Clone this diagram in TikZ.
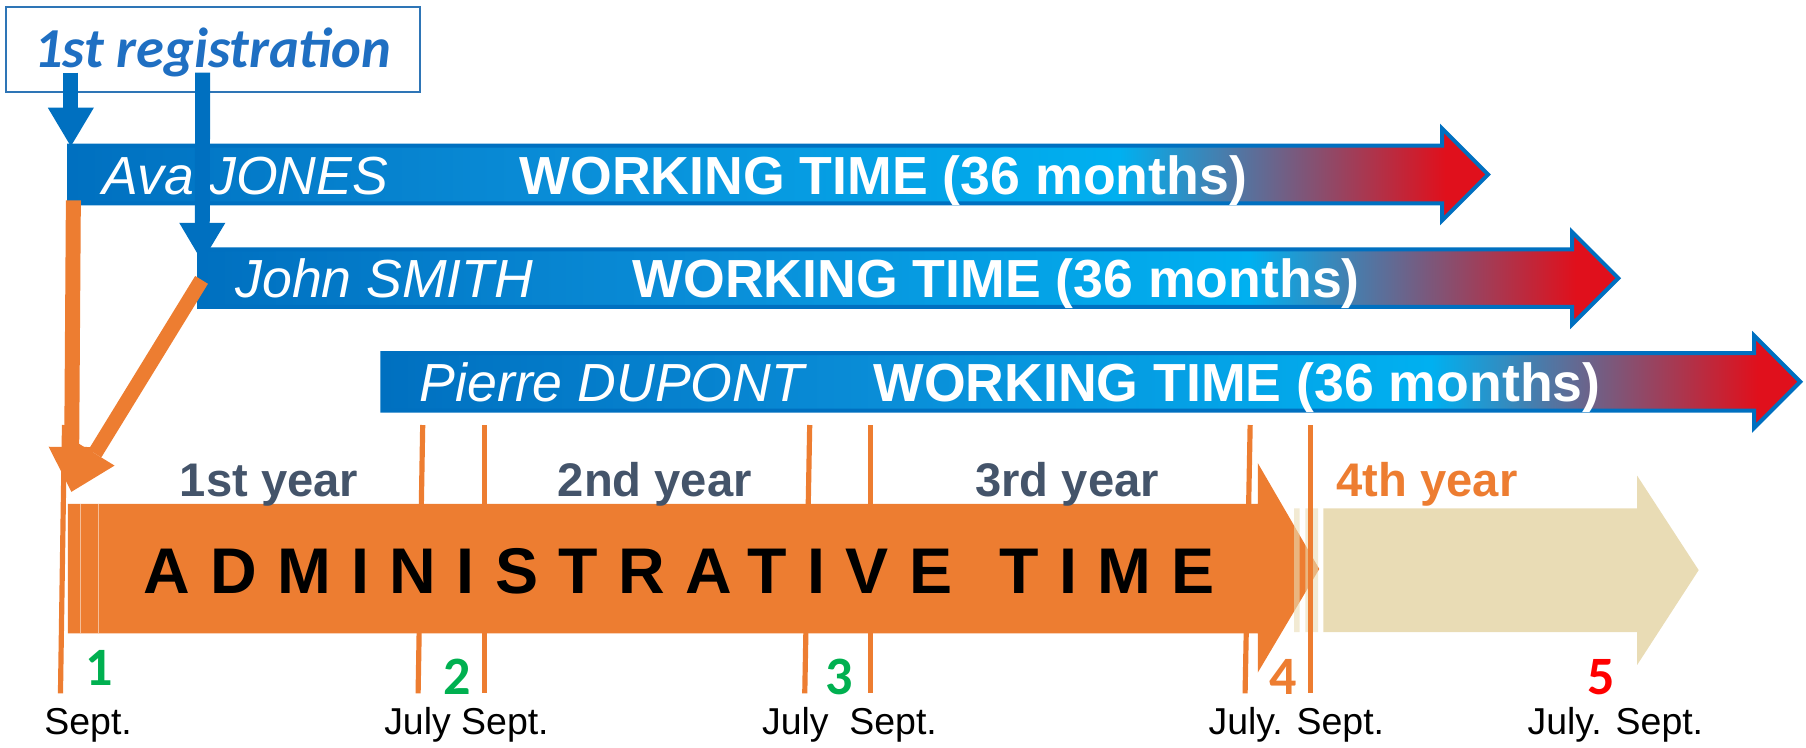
\documentclass[tikz,border=0pt]{standalone}
\usepackage{fontspec}
\setmainfont{Liberation Sans}
\newfontfamily\carlito{Carlito}
\usetikzlibrary{arrows.meta}

\definecolor{wtblue}{HTML}{0070C0}
\definecolor{wtmid}{HTML}{0A8ED8}
\definecolor{wtcyan}{HTML}{00B0F0}
\definecolor{wtred}{HTML}{E0101C}
\definecolor{adminorange}{HTML}{ED7D31}
\definecolor{beige}{HTML}{E9DCB5}
\definecolor{yeargray}{HTML}{44546A}
\definecolor{numgreen}{HTML}{00B050}
\definecolor{regblue}{HTML}{1F6FC2}
\definecolor{boxblue}{HTML}{2E75B6}

\pgfdeclarehorizontalshading{worktime}{100bp}{color(0bp)=(wtblue); color(25bp)=(wtblue); color(43bp)=(wtmid); color(62bp)=(wtcyan); color(73.5bp)=(wtred); color(100bp)=(wtred)}

\begin{document}
\begin{tikzpicture}[x=0.2mm, y=-0.2mm,
    tickline/.style={adminorange, line width=0.9mm},
    wtarrow/.style={shading=worktime, draw=wtblue, line width=0.7mm},
    who/.style={anchor=base west, inner sep=0, text=white, font=\fontsize{26.5}{30}\selectfont\itshape},
    wtlabel/.style={anchor=base west, inner sep=0, text=white, font=\fontsize{26.5}{30}\selectfont\bfseries},
    yearlabel/.style={anchor=base, inner sep=0, text=yeargray, font=\fontsize{23.3}{27}\selectfont\bfseries},
    num/.style={anchor=base, inner sep=0, font=\carlito\bfseries\fontsize{26.7}{30}\selectfont},
    monthlabel/.style={anchor=base, inner sep=0, font=\fontsize{18.5}{21}\selectfont},
    regbox/.style={draw=boxblue, line width=0.35mm, minimum width=71.9mm, minimum height=14.7mm, inner sep=0, text height=6mm, text depth=0pt, text=regblue, font=\carlito\bfseries\itshape\fontsize{27.9}{32}\selectfont},
    bluedown/.style={wtblue, line width=2.6mm, -{Triangle[length=6.7mm, width=8mm, line width=0pt]}},
    orangedown/.style={adminorange, line width=2.6mm, -{Triangle[length=7.8mm, width=8mm, line width=0pt]}}]
\useasboundingbox (0,0) rectangle (1568,649);

% month marks, behind the bars
\foreach \xa/\xb in {56/52.5, 367/363, 420.3/420.3, 703/698.7, 755.6/755.6, 1085.4/1081}
  \draw[tickline] (\xa,369) -- (\xb,602);

% 4th year
\fill[beige] (1149,441.3) -- (1421.4,441.3) -- (1421.4,413) -- (1474.8,495) -- (1421.4,577.3) -- (1421.4,548.9) -- (1149,548.9) -- cycle;

% administrative time
\fill[adminorange] (59,437.5) -- (1092,437.5) -- (1092,402) -- (1145.4,494) -- (1092,584) -- (1092,549.8) -- (59,549.8) -- cycle;
\fill[beige, opacity=0.6] (1123.5,441.3) rectangle (1128.3,548.9) (1133.4,441.3) rectangle (1144.3,548.9);
\draw[white, opacity=0.5, line width=0.25mm] (69.8,437.5) -- (69.8,549.8) (85.4,437.5) -- (85.4,549.8);
\draw[tickline] (1138,369) -- (1138,602);
\node[anchor=base west, inner sep=0, font=\fontsize{31.9}{36}\selectfont\bfseries\addfontfeature{LetterSpace=31.6}] (admin) at (124,515) {ADMINISTRATIVE\hspace{1.5mm} TIME};

% years
\node[yearlabel] (year1) at (233.5,431) {1st year};
\node[yearlabel] (year2) at (568.5,431) {2nd year};
\node[yearlabel] (year3) at (926.5,431) {3rd year};
\node[yearlabel, text=adminorange] (year4) at (1239,431) {4th year};

% working time, one arrow per person
\foreach \id/\l/\c/\t/\who/\nx/\wx in {ava/60/151.5/1292/Ava JONES/89/451,
    john/173/241.5/1405/John SMITH/204/549,
    pierre/332/331.5/1563/Pierre DUPONT/364/758} {
  \shadedraw[wtarrow] (\l,\c-25) -- (\t-40,\c-25) -- (\t-40,\c-40) -- (\t,\c) -- (\t-40,\c+40) -- (\t-40,\c+25) -- (\l,\c+25) -- cycle;
  \node[who] (\id-name) at (\nx,\c+17) {\who};
  \node[wtlabel] (\id-work) at (\wx,\c+17) {WORKING TIME (36 months)};
}

% 1st registration
\node[regbox] (reg) at (184.8,43.2) {1st registration};
\coordinate (reg-a) at (61.5,63);
\coordinate (reg-b) at (176,63);
\coordinate (ava-in) at (61.5,127);
\coordinate (john-in) at (175.5,227);
\draw[bluedown] (reg-a) -- (ava-in);
\draw[bluedown] (reg-b) -- (john-in);

% down to the administrative start
\coordinate (ava-foot) at (63.7,174);
\coordinate (john-foot) at (175,243);
\coordinate (start) at (62,427);
\draw[orangedown] (ava-foot) -- (start);
\draw[orangedown] (john-foot) -- (start);

% numbers and months
\node[num, numgreen] (n1) at (86,595.5) {1};
\node[num, numgreen] (n2) at (397,603.3) {2};
\node[num, numgreen] (n3) at (729,603.3) {3};
\node[num, adminorange] (n4) at (1114,603.3) {4};
\node[num, red] (n5) at (1390,603.3) {5};
\node[monthlabel] (m1) at (76.5,638) {Sept.};
\node[monthlabel] (m2) at (405,638) {July Sept.};
\node[monthlabel] (m3) at (737.5,638) {July\ \ Sept.};
\node[monthlabel] (m4) at (1125.5,638) {July. Sept.};
\node[monthlabel] (m5) at (1402.5,638) {July. Sept.};
\end{tikzpicture}
\end{document}
